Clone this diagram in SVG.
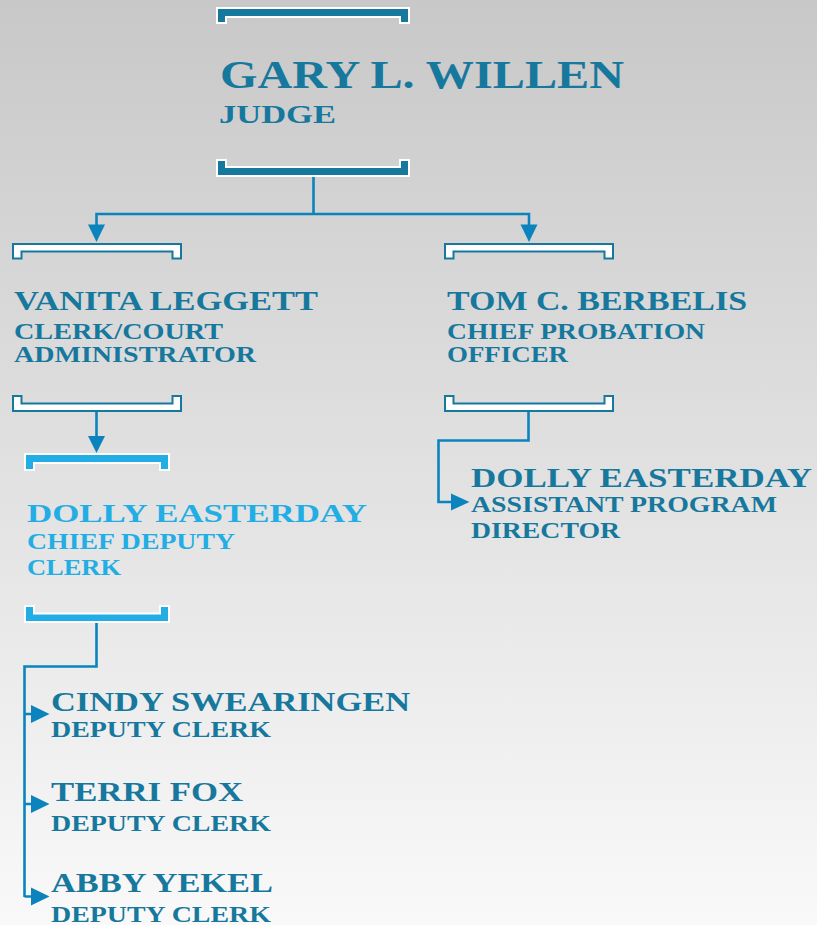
<svg xmlns="http://www.w3.org/2000/svg" width="817" height="925" viewBox="0 0 817 925">
<defs>
<linearGradient id="bg" x1="0" y1="0" x2="0" y2="1">
<stop offset="0" stop-color="#c8c8c8"/>
<stop offset="1" stop-color="#f9f9f9"/>
</linearGradient>
</defs>
<style>
text{font-family:"Liberation Serif","DejaVu Serif",serif;font-weight:bold}
.dk{fill:#17789e}
.lt{fill:#22aee4}
.n{font-size:28px}
.t{font-size:24px}
.bd{fill:#17789e;stroke:#fff;stroke-width:2}
.bl{fill:#22aee4;stroke:#fff;stroke-width:2}
.bh{fill:#fff;stroke:#17789e;stroke-width:2}
.ln{fill:none;stroke:#0b84bd;stroke-width:2.6}
.ah{fill:#0b84bd}
</style>
<rect width="817" height="925" fill="url(#bg)"/>
<g id="connectors">
<path class="ln" d="M313.5 177 V214 M96.5 214 H529 M96.5 212.7 V226 M529 212.7 V226"/>
<polygon class="ah" points="88,224.5 105,224.5 96.5,242"/>
<polygon class="ah" points="520.5,224.5 537.5,224.5 529,242"/>
<path class="ln" d="M96.5 412 V438"/>
<polygon class="ah" points="88,436 105,436 96.5,453"/>
<path class="ln" d="M528.5 412 V440.5 H438.5 V502 H454"/>
<polygon class="ah" points="451,493.5 469.5,502 451,510.5"/>
<path class="ln" d="M96.5 623 V666.5 H24.5 V897 M24.5 714 H34 M24.5 804 H34 M24.5 896.5 H34"/>
<polygon class="ah" points="31,705 49.5,714 31,723"/>
<polygon class="ah" points="31,795 49.5,804 31,813"/>
<polygon class="ah" points="31,887.5 49.5,896.5 31,905.5"/>
</g>
<g id="node-gary">
<polygon class="bd" points="217,8 409,8 409,23 400,23 400,17 226,17 226,23 217,23"/>
<polygon class="bd" points="217,176 409,176 409,160 400,160 400,167 226,167 226,160 217,160"/>
<text class="dk" x="220" y="88" font-size="40" textLength="404" lengthAdjust="spacingAndGlyphs">GARY L. WILLEN</text>
<text class="dk" x="219" y="123" font-size="26" textLength="117" lengthAdjust="spacingAndGlyphs">JUDGE</text>
</g>
<g id="node-vanita">
<polygon class="bh" points="13,244 181,244 181,258.5 172.5,258.5 172.5,251.5 21.5,251.5 21.5,258.5 13,258.5"/>
<polygon class="bh" points="13,411 181,411 181,396 172.5,396 172.5,403.5 21.5,403.5 21.5,396 13,396"/>
<text class="dk" x="14" y="310" font-size="27" textLength="304" lengthAdjust="spacingAndGlyphs">VANITA LEGGETT</text>
<text class="dk t" x="14" y="339" textLength="209" lengthAdjust="spacingAndGlyphs">CLERK/COURT</text>
<text class="dk t" x="14" y="362" textLength="242" lengthAdjust="spacingAndGlyphs">ADMINISTRATOR</text>
</g>
<g id="node-tom">
<polygon class="bh" points="445,244 613,244 613,258.5 604.5,258.5 604.5,251.5 453.5,251.5 453.5,258.5 445,258.5"/>
<polygon class="bh" points="445,411 613,411 613,396 604.5,396 604.5,403.5 453.5,403.5 453.5,396 445,396"/>
<text class="dk" x="447" y="310" font-size="27" textLength="300" lengthAdjust="spacingAndGlyphs">TOM C. BERBELIS</text>
<text class="dk t" x="447" y="339" textLength="258" lengthAdjust="spacingAndGlyphs">CHIEF PROBATION</text>
<text class="dk t" x="447" y="362" textLength="121" lengthAdjust="spacingAndGlyphs">OFFICER</text>
</g>
<g id="node-dolly-chief">
<polygon class="bl" points="25,454 169,454 169,470 160,470 160,463 34,463 34,470 25,470"/>
<polygon class="bl" points="25,622 169,622 169,606 160,606 160,613.5 34,613.5 34,606 25,606"/>
<text class="lt" x="27" y="522" font-size="26" textLength="340" lengthAdjust="spacingAndGlyphs">DOLLY EASTERDAY</text>
<text class="lt t" x="27" y="549" textLength="208" lengthAdjust="spacingAndGlyphs">CHIEF DEPUTY</text>
<text class="lt t" x="27" y="575" textLength="94" lengthAdjust="spacingAndGlyphs">CLERK</text>
</g>
<g id="node-dolly-assistant">
<text class="dk n" x="471" y="487" textLength="341" lengthAdjust="spacingAndGlyphs">DOLLY EASTERDAY</text>
<text class="dk t" x="471" y="512" textLength="306" lengthAdjust="spacingAndGlyphs">ASSISTANT PROGRAM</text>
<text class="dk t" x="471" y="538" textLength="149" lengthAdjust="spacingAndGlyphs">DIRECTOR</text>
</g>
<g id="node-cindy">
<text class="dk n" x="51" y="711" textLength="359" lengthAdjust="spacingAndGlyphs">CINDY SWEARINGEN</text>
<text class="dk t" x="51" y="737" textLength="220" lengthAdjust="spacingAndGlyphs">DEPUTY CLERK</text>
</g>
<g id="node-terri">
<text class="dk n" x="51" y="801" textLength="192" lengthAdjust="spacingAndGlyphs">TERRI FOX</text>
<text class="dk t" x="51" y="831" textLength="220" lengthAdjust="spacingAndGlyphs">DEPUTY CLERK</text>
</g>
<g id="node-abby">
<text class="dk n" x="51" y="892" textLength="222" lengthAdjust="spacingAndGlyphs">ABBY YEKEL</text>
<text class="dk t" x="51" y="922" textLength="220" lengthAdjust="spacingAndGlyphs">DEPUTY CLERK</text>
</g>
</svg>
